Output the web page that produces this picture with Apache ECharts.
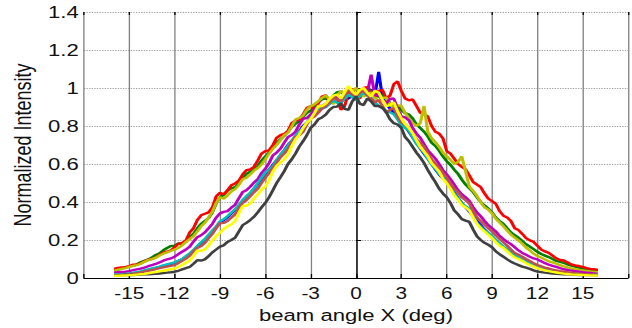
<!DOCTYPE html>
<html>
<head>
<meta charset="utf-8">
<script src="https://cdn.jsdelivr.net/npm/echarts@6/dist/echarts.min.js"></script>
<style>
  html, body { margin: 0; padding: 0; background: #fff; overflow: hidden; }
  #chart { width: 486px; height: 328px; transform: scaleX(1.3004); transform-origin: 0 0; }
</style>
</head>
<body>
<div id="chart"></div>
<script>
// x positions (deg)
const xs = [-16,-15.75,-15.5,-15.25,-15,-14.75,-14.5,-14.25,-14,-13.75,-13.5,-13.25,-13,-12.75,-12.5,-12.25,-12,-11.75,-11.5,-11.25,-11,-10.75,-10.5,-10.25,-10,-9.75,-9.5,-9.25,-9,-8.75,-8.5,-8.25,-8,-7.75,-7.5,-7.25,-7,-6.75,-6.5,-6.25,-6,-5.75,-5.5,-5.25,-5,-4.75,-4.5,-4.25,-4,-3.75,-3.5,-3.25,-3,-2.75,-2.5,-2.25,-2,-1.75,-1.5,-1.25,-1,-0.75,-0.5,-0.25,0,0.25,0.5,0.75,1,1.25,1.5,1.75,2,2.25,2.5,2.75,3,3.25,3.5,3.75,4,4.25,4.5,4.75,5,5.25,5.5,5.75,6,6.25,6.5,6.75,7,7.25,7.5,7.75,8,8.25,8.5,8.75,9,9.25,9.5,9.75,10,10.25,10.5,10.75,11,11.25,11.5,11.75,12,12.25,12.5,12.75,13,13.25,13.5,13.75,14,14.25,14.5,14.75,15,15.25,15.5,15.75,16];

const xTickLabels = [-15,-12,-9,-6,-3,0,3,6,9,12,15];
const yTickLabels = ['0','0.2','0.4','0.6','0.8','1','1.2','1.4'];

const redVals = [.048,.053,.055,.057,.063,.070,.072,.076,.088,.097,.100,.108,.122,.134,.138,.146,.162,.180,.185,.198,.240,.262,.305,.330,.338,.345,.372,.430,.448,.440,.462,.488,.498,.512,.545,.568,.572,.585,.618,.655,.668,.672,.700,.738,.752,.758,.775,.815,.830,.835,.862,.895,.905,.880,.918,.955,.962,.930,.935,.950,.885,.905,.975,.995,.952,.945,1.0,1.005,.962,.955,.985,.990,.945,.960,1.02,1.035,.985,.945,.935,.940,.905,.870,.862,.850,.800,.770,.760,.735,.668,.655,.628,.600,.585,.572,.540,.505,.492,.478,.445,.418,.405,.390,.352,.328,.318,.300,.262,.252,.232,.210,.198,.190,.170,.150,.140,.132,.118,.103,.095,.092,.082,.071,.066,.063,.058,.052,.048,.046,.042];
const greenVals = [.040,.044,.050,.057,.060,.064,.072,.083,.090,.097,.108,.121,.130,.146,.158,.168,.170,.182,.178,.190,.215,.232,.262,.285,.300,.315,.345,.392,.425,.438,.460,.472,.478,.498,.525,.548,.560,.570,.590,.618,.640,.660,.690,.712,.730,.748,.770,.795,.812,.826,.848,.870,.880,.898,.925,.940,.945,.932,.960,.978,.980,.962,.965,.990,.995,.975,.970,1.0,.985,.962,.955,.962,.948,.920,.905,.905,.885,.868,.860,.840,.808,.790,.770,.745,.712,.695,.670,.640,.615,.595,.570,.548,.518,.492,.472,.452,.425,.400,.382,.366,.345,.318,.300,.285,.262,.240,.225,.212,.195,.178,.165,.152,.138,.126,.118,.110,.100,.090,.085,.079,.072,.065,.060,.055,.050,.047,.043,.040,.038];
const oliveVals = [.038,.044,.048,.052,.058,.064,.068,.075,.085,.094,.100,.107,.118,.128,.135,.142,.150,.158,.172,.190,.205,.220,.245,.272,.290,.318,.350,.395,.425,.418,.435,.455,.468,.490,.520,.528,.545,.565,.578,.598,.625,.655,.680,.700,.725,.752,.765,.798,.835,.842,.855,.885,.905,.915,.930,.948,.960,.940,.915,.960,.985,.968,.958,.985,1.0,.975,.955,.970,.975,.950,.930,.948,.950,.915,.895,.910,.905,.870,.840,.815,.800,.815,.905,.770,.735,.715,.690,.660,.640,.622,.600,.610,.640,.560,.480,.458,.432,.398,.372,.360,.340,.312,.292,.272,.250,.228,.212,.198,.180,.160,.145,.128,.115,.108,.098,.088,.082,.075,.068,.061,.056,.050,.046,.043,.040,.037,.034,.032,.030];
const magentaVals = [.028,.031,.032,.033,.036,.041,.045,.049,.055,.062,.068,.074,.082,.091,.098,.103,.112,.126,.138,.150,.165,.192,.215,.225,.240,.262,.285,.318,.340,.348,.352,.370,.385,.420,.452,.462,.480,.502,.520,.552,.575,.605,.645,.660,.680,.712,.742,.752,.770,.808,.838,.842,.860,.890,.905,.905,.918,.940,.950,.958,.935,.962,.985,.965,.960,.985,.990,.975,1.07,.960,.965,.935,.920,.942,.945,.890,.850,.845,.830,.790,.760,.738,.705,.672,.650,.628,.600,.568,.545,.520,.492,.462,.440,.425,.405,.372,.345,.325,.300,.278,.262,.245,.222,.205,.190,.178,.162,.145,.132,.122,.112,.103,.098,.088,.078,.070,.064,.058,.052,.046,.042,.039,.036,.033,.030,.028,.026,.024,.022];
const cyanVals = [.018,.019,.020,.022,.024,.027,.030,.035,.040,.045,.050,.055,.060,.066,.072,.077,.082,.091,.100,.115,.130,.148,.168,.188,.205,.228,.250,.272,.298,.310,.325,.345,.362,.385,.410,.430,.448,.472,.500,.528,.555,.570,.590,.622,.650,.672,.695,.722,.748,.770,.790,.818,.842,.862,.885,.895,.898,.918,.935,.922,.920,.945,.965,.952,.935,.958,.975,.960,.948,.925,.905,.895,.880,.872,.862,.835,.805,.790,.775,.742,.705,.685,.660,.628,.598,.575,.548,.530,.515,.478,.445,.420,.392,.378,.365,.325,.290,.270,.250,.238,.222,.200,.182,.165,.150,.135,.120,.110,.098,.088,.078,.068,.060,.054,.048,.044,.040,.036,.032,.029,.027,.025,.023,.021,.020,.019,.018,.017,.017];
const brownVals = [.015,.016,.017,.018,.020,.023,.026,.030,.034,.038,.042,.047,.052,.056,.060,.064,.068,.079,.090,.102,.118,.140,.158,.168,.185,.210,.232,.262,.288,.290,.300,.318,.335,.368,.395,.410,.430,.452,.470,.500,.528,.552,.580,.608,.635,.655,.680,.715,.742,.752,.770,.808,.840,.850,.870,.892,.905,.925,.950,.938,.930,.962,.990,.968,.955,.975,.985,.962,.945,.925,.935,.905,.870,.885,.895,.852,.820,.808,.790,.762,.730,.712,.690,.655,.625,.602,.580,.552,.528,.495,.470,.450,.425,.410,.392,.352,.320,.298,.280,.262,.245,.225,.205,.188,.170,.150,.132,.122,.112,.100,.090,.078,.068,.062,.055,.050,.044,.040,.036,.033,.030,.028,.025,.023,.021,.020,.019,.018,.017];
const yellowVals = [.012,.012,.013,.014,.015,.016,.018,.020,.022,.025,.028,.031,.035,.038,.042,.046,.050,.058,.068,.080,.092,.115,.145,.142,.150,.172,.198,.220,.238,.258,.272,.282,.300,.342,.378,.380,.392,.418,.440,.465,.482,.515,.560,.590,.608,.625,.650,.695,.730,.755,.790,.818,.835,.868,.905,.905,.918,.942,.960,.965,.945,.978,1.01,.982,.965,.990,1.0,.975,.955,.985,.975,.938,.905,.910,.925,.878,.840,.810,.790,.762,.725,.690,.665,.640,.605,.582,.560,.522,.500,.470,.435,.412,.385,.372,.355,.318,.285,.262,.245,.228,.210,.188,.170,.158,.140,.122,.108,.100,.090,.078,.068,.060,.052,.046,.040,.036,.032,.029,.026,.023,.021,.019,.018,.017,.016,.015,.014,.013,.013];
const greyVals = [.015,.015,.015,.016,.016,.016,.017,.018,.019,.020,.021,.022,.024,.026,.028,.030,.033,.038,.045,.052,.058,.075,.094,.092,.098,.115,.135,.150,.165,.172,.190,.200,.212,.245,.278,.290,.305,.322,.345,.372,.395,.425,.462,.500,.530,.562,.600,.625,.655,.692,.720,.752,.790,.808,.835,.845,.860,.885,.900,.902,.920,.890,.885,.930,.955,.918,.910,.945,.930,.905,.905,.895,.872,.835,.815,.808,.790,.742,.720,.690,.660,.635,.605,.568,.535,.505,.470,.445,.425,.395,.355,.335,.310,.302,.295,.255,.220,.200,.185,.175,.162,.140,.125,.112,.098,.086,.076,.068,.060,.054,.048,.040,.034,.031,.028,.026,.024,.022,.021,.020,.019,.018,.017,.016,.016,.015,.015,.015,.015];
const blueVals = [.016,.017,.019,.020,.022,.025,.028,.032,.037,.042,.047,.052,.057,.063,.069,.074,.080,.089,.098,.112,.126,.145,.165,.182,.200,.222,.245,.268,.292,.305,.320,.340,.358,.382,.405,.425,.445,.470,.495,.520,.548,.572,.595,.620,.645,.672,.700,.722,.745,.772,.800,.818,.838,.860,.880,.892,.905,.918,.930,.942,.950,.938,.945,.958,.968,.975,.985,.982,.990,.960,1.085,.950,.915,.892,.870,.848,.825,.798,.770,.740,.710,.682,.655,.628,.600,.572,.545,.525,.505,.478,.450,.422,.395,.372,.350,.325,.300,.278,.255,.235,.218,.198,.180,.162,.148,.132,.118,.106,.095,.085,.076,.066,.058,.052,.047,.042,.038,.034,.031,.028,.026,.024,.022,.020,.019,.018,.017,.016,.016];

const seriesDefs = [
  { name: 'blue', color: '#0000ff', vals: blueVals },
  { name: 'green', color: '#008000', vals: greenVals },
  { name: 'red', color: '#ff0000', vals: redVals },
  { name: 'olive', color: '#bfbf00', vals: oliveVals },
  { name: 'magenta', color: '#bf00bf', vals: magentaVals },
  { name: 'cyan', color: '#00bfbf', vals: cyanVals },
  { name: 'brown', color: '#c0504d', vals: brownVals },
  { name: 'grey', color: '#404040', vals: greyVals },
  { name: 'yellow', color: '#ffff00', vals: yellowVals }
];

const chart = echarts.init(document.getElementById('chart'), null, { renderer: 'svg' });
const font = 'Liberation Sans, Arial, sans-serif';

chart.setOption({
  animation: false,
  backgroundColor: '#fff',
  grid: { left: 56, right: 0, top: 12, bottom: 50, containLabel: false },
  xAxis: [{
    type: 'value', min: -18, max: 18, interval: 3,
    name: 'beam angle X (deg)', nameLocation: 'middle', nameGap: 28,
    nameTextStyle: { fontFamily: font, fontSize: 17, color: '#111' },
    axisLine: { show: true, lineStyle: { color: '#000', width: 1 } },
    axisTick: { show: true, inside: true, length: 4, lineStyle: { color: '#000' } },
    axisLabel: {
      fontFamily: font, fontSize: 16, color: '#111', margin: 7,
      formatter: v => (xTickLabels.indexOf(v) >= 0 ? String(v) : '')
    },
    splitLine: { show: true, lineStyle: { color: '#808080', width: 1, type: 'solid' } }
  }, {
    type: 'value', min: -18, max: 18, interval: 3, position: 'top',
    axisLine: { show: false },
    axisTick: { show: true, inside: true, length: 3, lineStyle: { color: '#000' } },
    axisLabel: { show: false },
    splitLine: { show: false }
  }],
  yAxis: {
    type: 'value', min: 0, max: 1.4, interval: 0.2,
    name: 'Normalized Intensity', nameLocation: 'middle', nameGap: 38,
    nameTextStyle: { fontFamily: font, fontSize: 18, color: '#111' },
    axisLine: { show: true, lineStyle: { color: '#000', width: 1 } },
    axisTick: { show: true, inside: true, length: 4, lineStyle: { color: '#000' } },
    axisLabel: {
      fontFamily: font, fontSize: 17, color: '#111', margin: 4,
      formatter: (v, i) => yTickLabels[i]
    },
    splitLine: { show: true, lineStyle: { color: '#a0a0a0', width: 1, type: [1, 1] } }
  },
  series: seriesDefs.map(s => ({
    name: s.name,
    type: 'line',
    showSymbol: false,
    symbol: 'none',
    data: xs.map((x, i) => [x, s.vals[i]]),
    lineStyle: { color: s.color, width: 2.4 },
    itemStyle: { color: s.color },
    emphasis: { disabled: true }
  }))
});
</script>
</body>
</html>
